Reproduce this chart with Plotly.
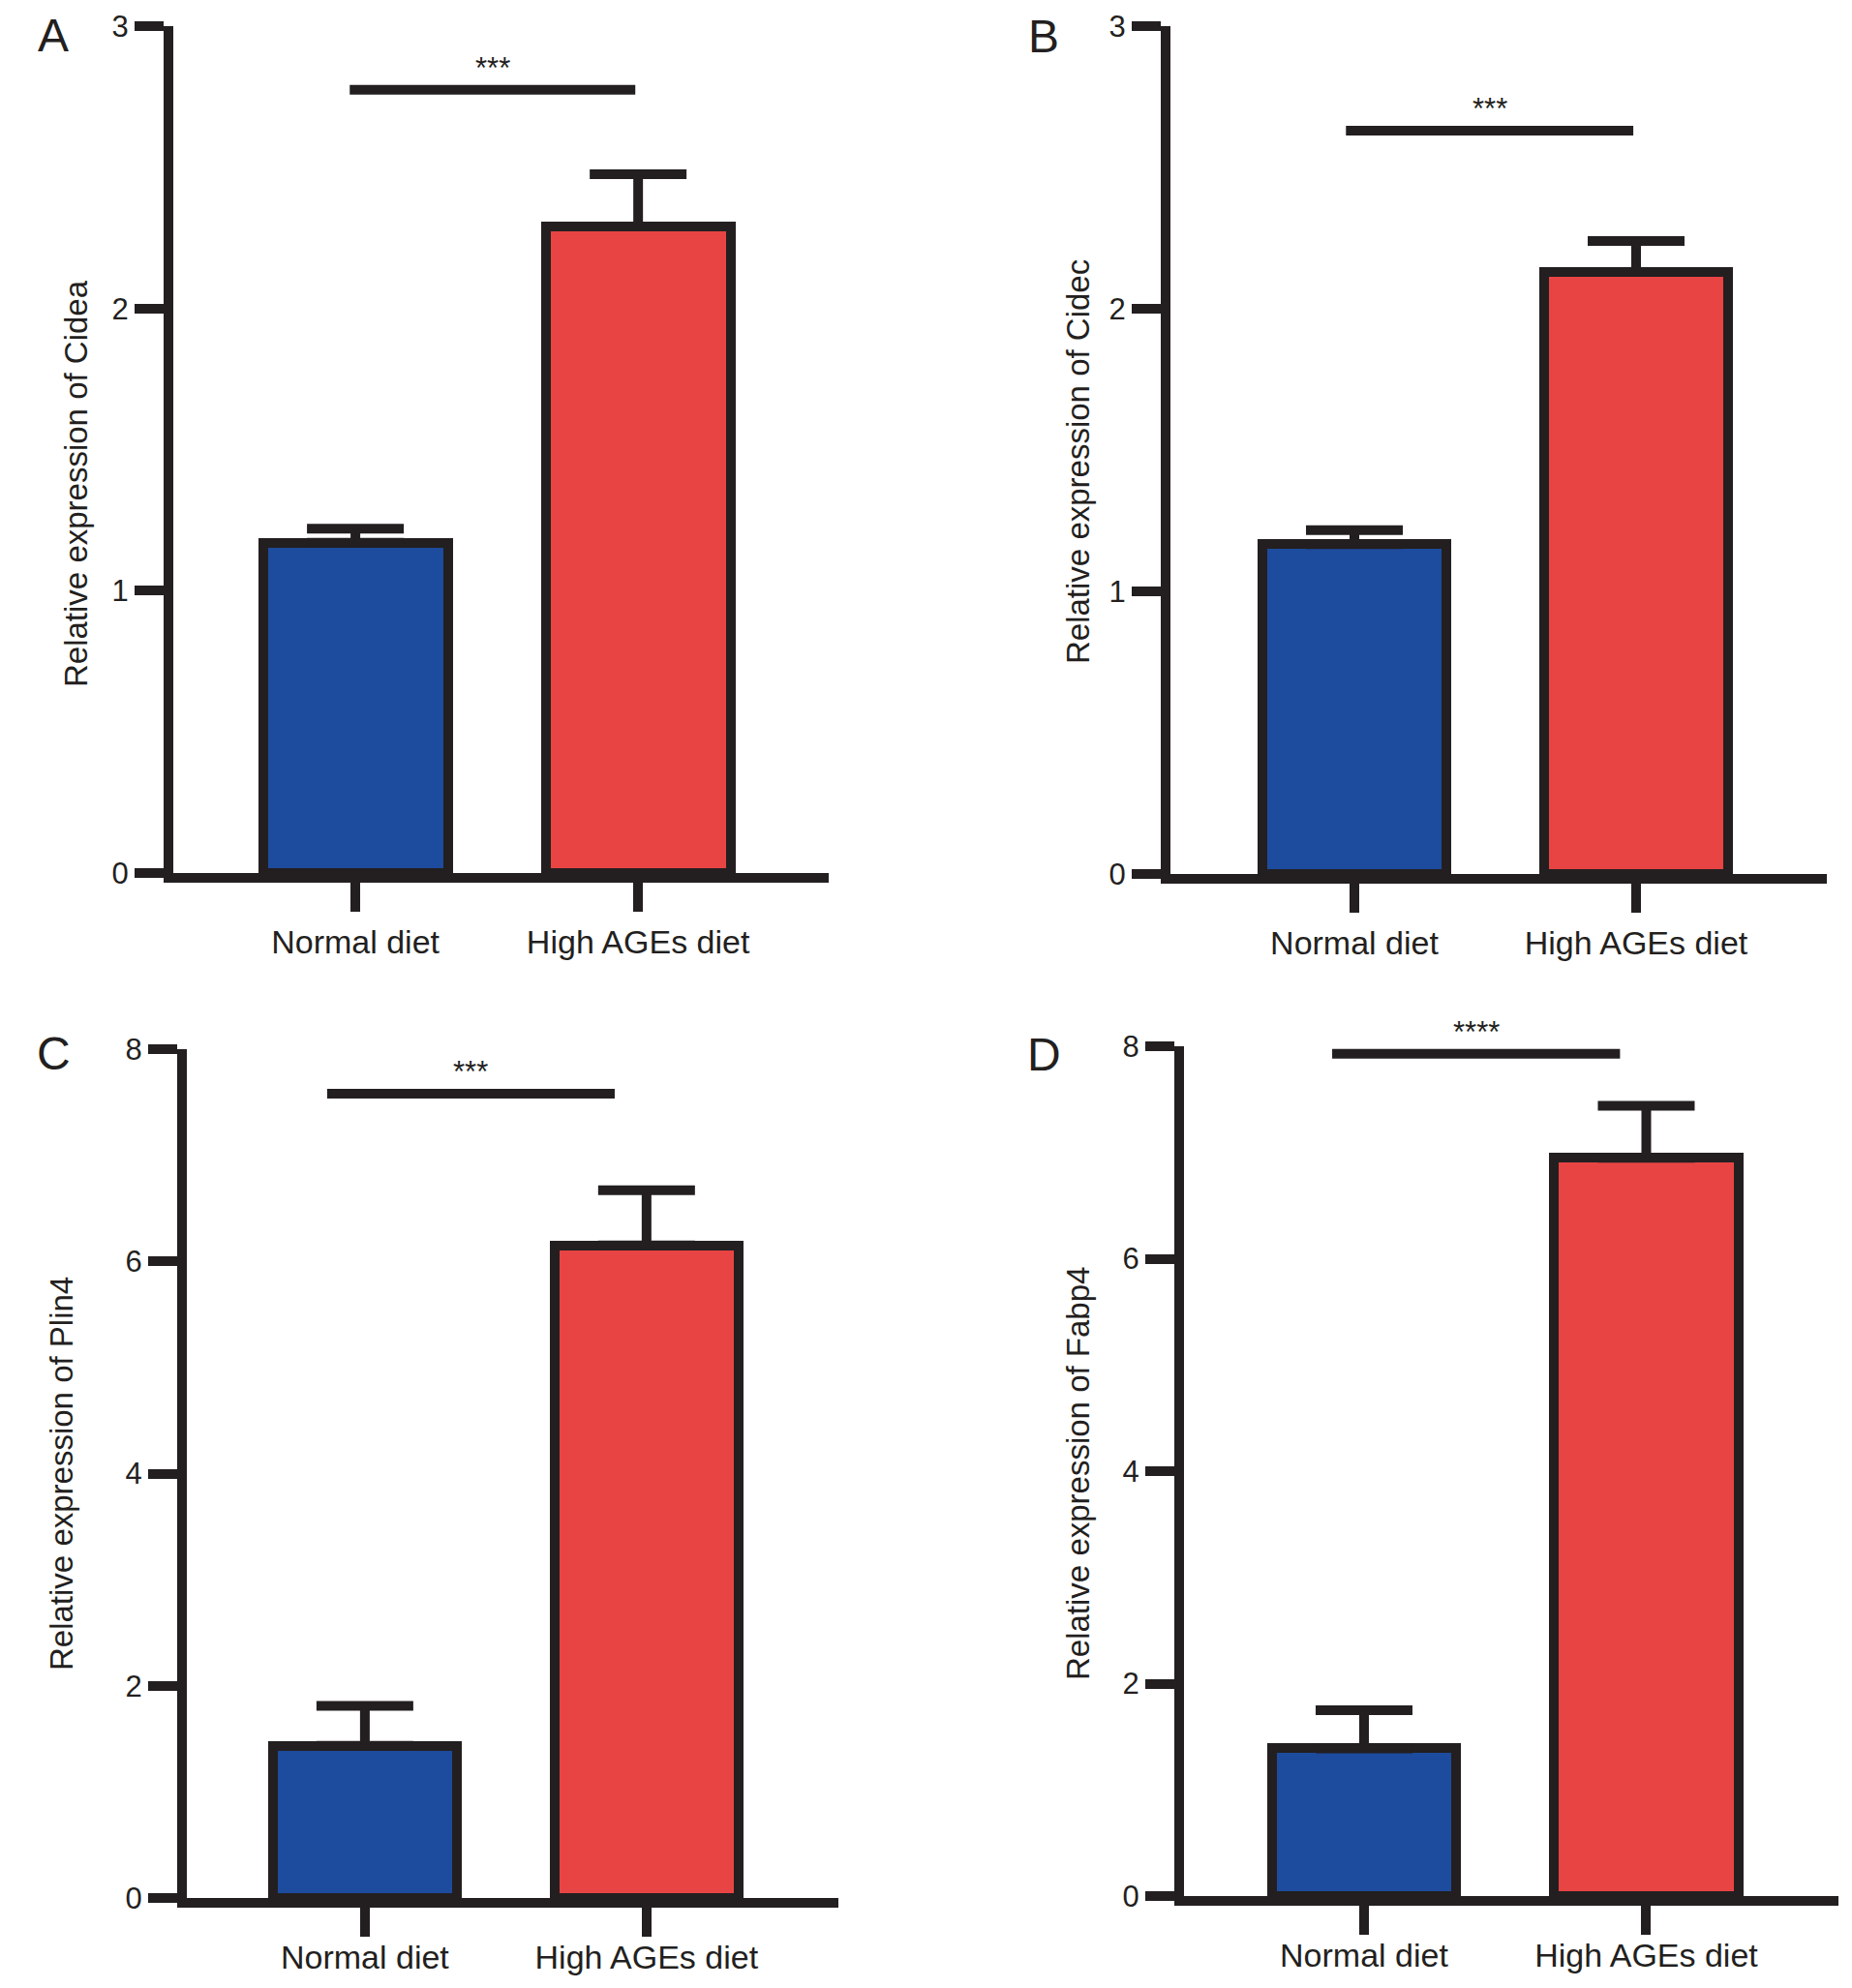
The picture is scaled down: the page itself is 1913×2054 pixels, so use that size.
import plotly.graph_objects as go

# data
groups = ["Normal diet", "High AGEs diet"]
panel_letters = ["A", "B", "C", "D"]
genes = ["Cidea", "Cidec", "Plin4", "Fabp4"]

cidea_mean = [1.17, 2.29]
cidea_err = [0.05, 0.185]
cidec_mean = [1.167, 2.13]
cidec_err = [0.05, 0.11]
plin4_mean = [1.435, 6.15]
plin4_err = [0.375, 0.52]
fabp4_mean = [1.39, 6.95]
fabp4_err = [0.36, 0.49]

y_max = [3, 3, 8, 8]
y_dtick = [1, 1, 2, 2]
sig_text = ["***", "***", "***", "****"]
sig_y = [2.775, 2.63, 7.58, 7.93]
sig_x0 = [-0.02, -0.03, -0.134, -0.113]
sig_x1 = [0.99, 0.99, 0.887, 0.907]

means = [cidea_mean, cidec_mean, plin4_mean, fabp4_mean]
errs = [cidea_err, cidec_err, plin4_err, fabp4_err]

W, H = 1913, 2054
PAD = 8     # body margin of the page
LW = 10     # axis / outline width
INK = "#231f20"
BAR_COLORS = ["#1d4b9e", "#e84444"]
FONT = "Arial, Liberation Sans, sans-serif"

# panel geometry in page pixels: y-axis line, x-axis line, top tick, x-axis end
panels = [
    dict(yline=174, xline=907, top=27, xend=856, xr=[-0.644, 1.674], lab=2,
         title=(79, 500), letter=(55, 36)),
    dict(yline=1204, xline=908, top=27, xend=1887, xr=[-0.653, 1.677], lab=2,
         title=(1113, 477), letter=(1078, 37)),
    dict(yline=188, xline=1966, top=1084, xend=866, xr=[-0.632, 1.681], lab=-8,
         title=(63, 1523), letter=(55, 1088)),
    dict(yline=1218, xline=1964, top=1081, xend=1899, xr=[-0.638, 1.681], lab=-8,
         title=(1113, 1523), letter=(1078, 1089)),
]


def px(v):
    return (v - PAD) / W


def py(v):
    return 1 - (v - PAD) / H


fig = go.Figure()
annotations = []
shapes = []

for i, p in enumerate(panels):
    n = "" if i == 0 else str(i + 1)
    xa, ya = "x" + n, "y" + n

    fig.add_trace(go.Bar(
        x=groups,
        y=means[i],
        width=0.654,
        marker=dict(color=BAR_COLORS, line=dict(color=INK, width=LW)),
        error_y=dict(type="data", array=errs[i], arrayminus=[0, 0], symmetric=False,
                     color=INK, thickness=LW, width=50),
        xaxis=xa,
        yaxis=ya,
        showlegend=False,
    ))

    # plotly draws axis lines half a line width outside the domain
    fig.layout["xaxis" + n] = dict(
        domain=[px(p["yline"] + LW / 2), px(p["xend"])],
        anchor=ya,
        type="category",
        range=p["xr"],
        automargin=False,
        showline=True, linecolor=INK, linewidth=LW,
        ticks="outside", ticklen=30, tickwidth=LW, tickcolor=INK,
        tickfont=dict(family=FONT, size=34, color=INK),
        ticklabelstandoff=p["lab"],
        showgrid=False, zeroline=False, fixedrange=True,
    )
    fig.layout["yaxis" + n] = dict(
        domain=[py(p["xline"] - LW / 2), py(p["top"])],
        anchor=xa,
        range=[0, y_max[i]],
        dtick=y_dtick[i], tick0=0,
        automargin=False,
        showline=True, linecolor=INK, linewidth=LW,
        ticks="outside", ticklen=30, tickwidth=LW, tickcolor=INK,
        tickfont=dict(family=FONT, size=31, color=INK),
        ticklabelstandoff=0,
        showgrid=False, zeroline=False, fixedrange=True,
    )

    shapes.append(dict(type="line", xref=xa, yref=ya,
                       x0=sig_x0[i], x1=sig_x1[i], y0=sig_y[i], y1=sig_y[i],
                       line=dict(color=INK, width=LW)))
    annotations.append(dict(xref=xa, yref=ya, x=(sig_x0[i] + sig_x1[i]) / 2, y=sig_y[i],
                            text=sig_text[i], showarrow=False, yanchor="bottom", yshift=3,
                            font=dict(family=FONT, size=31, color=INK)))
    annotations.append(dict(xref="paper", yref="paper",
                            x=px(p["title"][0]), y=py(p["title"][1]),
                            text="Relative expression of " + genes[i], textangle=-90,
                            showarrow=False, xanchor="center", yanchor="middle",
                            font=dict(family=FONT, size=33, color=INK)))
    annotations.append(dict(xref="paper", yref="paper",
                            x=px(p["letter"][0]), y=py(p["letter"][1]),
                            text=panel_letters[i], showarrow=False,
                            xanchor="center", yanchor="middle",
                            font=dict(family=FONT, size=48, color=INK)))

fig.update_layout(
    width=W,
    height=H,
    margin=dict(l=0, r=0, t=0, b=0, pad=0),
    paper_bgcolor="white",
    plot_bgcolor="white",
    shapes=shapes,
    annotations=annotations,
    bargap=0,
)

fig.write_html("out.html")
